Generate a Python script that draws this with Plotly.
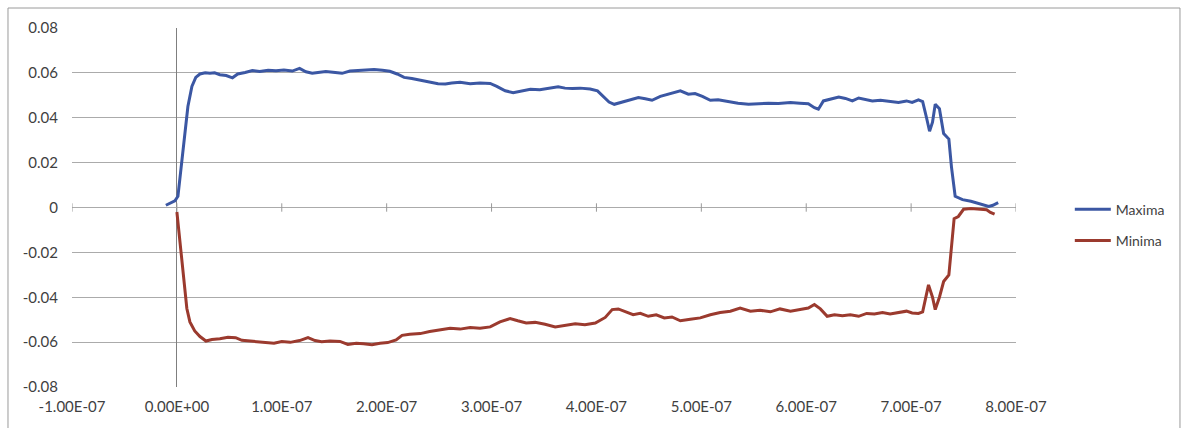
import plotly.graph_objects as go

# Time stamps in nanoseconds and amplitude envelopes
max_t_ns = [-10.5, -1.9, 1, 4.8, 7.6, 10.5, 14.3, 18, 22, 27, 31.5, 36, 41, 47, 53, 58, 65, 72, 79, 87,
            94.5, 102, 110, 117, 123, 129, 134.5, 142, 151, 157.5, 165, 173, 180, 188, 196, 203, 210,
            216.6, 224, 232, 241, 249, 256, 262, 270, 279.6, 289, 298.7, 305, 313, 320.6, 329, 337, 346,
            356, 363.5, 370, 377, 384.5, 394, 401, 406.5, 412, 417, 424.6, 432, 440, 446.6, 453, 460.9,
            468.5, 475, 480, 487.6, 494, 501, 508.6, 516, 525.8, 535, 545, 554.8, 564, 573.5, 585, 594,
            602, 607.8, 611.6, 616.4, 623, 631, 637.4, 644, 650, 656.5, 663, 670.8, 680, 688, 695.6, 701,
            707, 711, 714.7, 717.6, 720.4, 723, 727, 731, 736, 738.5, 742, 749, 757, 766, 774, 778, 783]
maxima = [0.001, 0.003, 0.005, 0.02, 0.032, 0.045, 0.054, 0.058, 0.0595, 0.060, 0.0598, 0.060, 0.0592,
          0.0588, 0.0578, 0.0595, 0.0602, 0.061, 0.0606, 0.0612, 0.061, 0.0613, 0.0608, 0.062, 0.0605,
          0.0598, 0.0602, 0.0606, 0.0602, 0.0598, 0.0608, 0.061, 0.0612, 0.0615, 0.0612, 0.0607, 0.0595,
          0.058, 0.0575, 0.0568, 0.0562, 0.0552, 0.055, 0.0555, 0.0558, 0.0552, 0.0555, 0.0553, 0.054,
          0.052, 0.0512, 0.0518, 0.0527, 0.0525, 0.0532, 0.0538, 0.0532, 0.053, 0.0532, 0.0528, 0.052,
          0.0495, 0.047, 0.046, 0.047, 0.0482, 0.049, 0.0485, 0.0478, 0.0495, 0.0505, 0.0515, 0.052,
          0.0505, 0.0508, 0.0495, 0.0478, 0.048, 0.0472, 0.0465, 0.046, 0.0462, 0.0465, 0.0463, 0.0468,
          0.0465, 0.0462, 0.0445, 0.0438, 0.0475, 0.0482, 0.0492, 0.0486, 0.0475, 0.0488, 0.0482, 0.0475,
          0.0478, 0.0472, 0.0468, 0.0475, 0.0468, 0.048, 0.0472, 0.040, 0.034, 0.038, 0.046, 0.044, 0.033,
          0.0305, 0.018, 0.005, 0.0035, 0.0028, 0.0015, 0.0005, 0.001, 0.0022]

min_t_ns = [0, 2.9, 5.7, 9.5, 12.4, 17, 22, 27.7, 33.4, 41, 48.7, 56, 62, 69.7, 77, 85, 92.6, 100, 108,
            117, 125, 131.7, 138, 146, 155.5, 163, 171, 178, 186, 193.7, 201, 209, 214.7, 222, 232, 241,
            251, 260.5, 270, 279.6, 289, 298.7, 308, 317.7, 325, 333, 341.6, 351, 360.7, 370, 379.8, 389,
            398.9, 408.4, 415, 420.8, 428, 435, 441.8, 449.4, 457, 464.7, 472, 480, 489.5, 499, 508.6, 518,
            527.7, 537, 546.8, 556, 565.8, 575, 585, 594.5, 602, 607.8, 613.5, 620, 626.9, 634.5, 642, 650,
            657.6, 665, 672.7, 680, 688, 695.6, 701, 707, 711, 713.7, 716.6, 720.4, 723, 727, 731, 736,
            738.5, 741, 745, 750, 757, 766.4, 772, 775.6, 779.6]
minima = [-0.002, -0.015, -0.03, -0.045, -0.051, -0.055, -0.0575, -0.0595, -0.0588, -0.0585, -0.0578,
          -0.058, -0.0592, -0.0595, -0.0598, -0.06, -0.0605, -0.0597, -0.0601, -0.0593, -0.058, -0.0593,
          -0.0598, -0.0595, -0.0597, -0.061, -0.0605, -0.0607, -0.0612, -0.0605, -0.0602, -0.059, -0.057,
          -0.0565, -0.0562, -0.0553, -0.0545, -0.0538, -0.0542, -0.0535, -0.0538, -0.0532, -0.051, -0.0495,
          -0.0505, -0.0515, -0.0512, -0.052, -0.0532, -0.0525, -0.0518, -0.0522, -0.0515, -0.049, -0.0455,
          -0.0452, -0.0465, -0.0478, -0.0472, -0.0485, -0.0478, -0.0492, -0.0488, -0.0505, -0.0498,
          -0.0492, -0.0478, -0.0468, -0.0462, -0.0448, -0.0462, -0.0458, -0.0465, -0.0452, -0.0462,
          -0.0455, -0.0448, -0.0432, -0.0452, -0.0485, -0.0478, -0.0482, -0.0478, -0.0485, -0.0472,
          -0.0475, -0.0468, -0.0475, -0.047, -0.0462, -0.047, -0.0472, -0.0465, -0.040, -0.0345, -0.040,
          -0.0455, -0.040, -0.033, -0.030, -0.018, -0.005, -0.004, -0.0008, -0.0005, -0.0008, -0.001,
          -0.0022, -0.003]

x_tick_vals = [-1e-7, 0, 1e-7, 2e-7, 3e-7, 4e-7, 5e-7, 6e-7, 7e-7, 8e-7]
x_tick_text = ["-1.00E-07", "0.00E+00", "1.00E-07", "2.00E-07", "3.00E-07", "4.00E-07",
               "5.00E-07", "6.00E-07", "7.00E-07", "8.00E-07"]
y_tick_vals = [0.08, 0.06, 0.04, 0.02, 0, -0.02, -0.04, -0.06, -0.08]
y_tick_text = ["0.08", "0.06", "0.04", "0.02", "0", "-0.02", "-0.04", "-0.06", "-0.08"]

FONT = "Lato, 'Open Sans', sans-serif"
TEXT = "#3f3f3f"
GRID = "#ababab"

fig = go.Figure()

# small tick marks sitting on the horizontal axis through zero
fig.add_trace(go.Scatter(
    x=x_tick_vals, y=[0] * len(x_tick_vals), mode="markers",
    marker=dict(symbol="line-ns-open", size=6, color="#9a9a9a",
                line=dict(color="#9a9a9a", width=1)),
    showlegend=False, hoverinfo="skip"))

fig.add_trace(go.Scatter(
    x=[t * 1e-9 for t in max_t_ns], y=maxima, mode="lines", name="Maxima",
    line=dict(color="#3b57a3", width=3), legendgroup="a"))
fig.add_trace(go.Scatter(
    x=[t * 1e-9 for t in min_t_ns], y=minima, mode="lines", name="Minima",
    line=dict(color="#9b3a2e", width=3), legendgroup="b"))

fig.update_layout(
    width=1183, height=428,
    margin=dict(l=72, r=167, t=28, b=41),
    paper_bgcolor="white", plot_bgcolor="white",
    font=dict(family=FONT, size=15, color=TEXT),
    legend=dict(x=1.057, y=0.451, xanchor="left", yanchor="middle",
                traceorder="grouped", tracegroupgap=10,
                font=dict(family=FONT, size=14, color=TEXT),
                itemwidth=36, bgcolor="rgba(0,0,0,0)"),
    xaxis=dict(range=[-1e-7, 8e-7], tickvals=x_tick_vals, ticktext=x_tick_text,
               showgrid=False, zeroline=True, zerolinecolor="#7f7f7f", zerolinewidth=1,
               showline=False, ticks="", ticklabelstandoff=9,
               tickfont=dict(family=FONT, size=15, color=TEXT)),
    yaxis=dict(range=[-0.08, 0.08], tickvals=y_tick_vals, ticktext=y_tick_text,
               showgrid=True, gridcolor=GRID, gridwidth=1,
               zeroline=True, zerolinecolor=GRID, zerolinewidth=1,
               showline=False, ticks="", ticklabelstandoff=13,
               tickfont=dict(family=FONT, size=15, color=TEXT)),
    shapes=[dict(type="rect", xref="paper", yref="paper",
                 x0=-0.0678, x1=1.1737, y0=-0.118, y1=1.0557,
                 line=dict(color="#9a9a9a", width=1), fillcolor="rgba(0,0,0,0)",
                 layer="below")],
    showlegend=True,
)

fig.write_html("out.html")
